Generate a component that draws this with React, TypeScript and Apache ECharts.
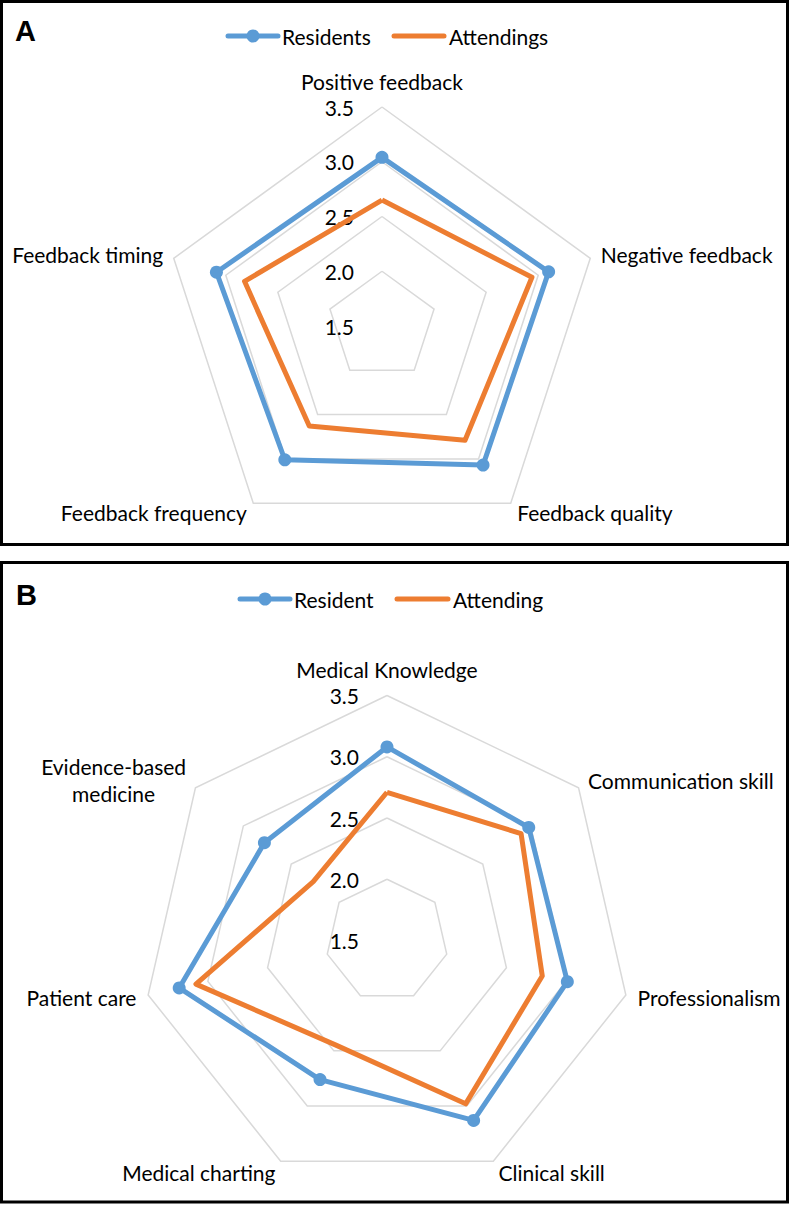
import React, { useEffect, useRef } from "react";
import * as echarts from "echarts";

// ---- Panel A data (clockwise from top) ----
const indicatorsA = ["Positive feedback", "Negative feedback", "Feedback quality", "Feedback frequency", "Feedback timing"];
const residentsA = [3.04, 3.10, 3.07, 3.01, 3.09];
const attendingsA = [2.65, 2.94, 2.79, 2.63, 2.82];
const seriesNamesA = ["Residents", "Attendings"];

// ---- Panel B data (clockwise from top) ----
const indicatorsB = ["Medical Knowledge", "Communication skill", "Professionalism", "Clinical skill", "Medical charting", "Patient care", "Evidence-based\nmedicine"];
const residentB = [3.08, 2.98, 3.01, 3.13, 2.76, 3.24, 2.78];
const attendingB = [2.71, 2.90, 2.80, 2.98, 2.45, 3.10, 2.27];
const seriesNamesB = ["Resident", "Attending"];

// ---- Axis scale ----
const axisMin = 1.5;
const axisMax = 3.5;
const axisSplits = 4;

const BLUE = "#5B9BD5";
const ORANGE = "#ED7D31";
const GRID = "#d9d9d9";
const FONT = "Lato, 'Open Sans', sans-serif";
const FS = 21;

// ECharts places radar indicators counter-clockwise; reorder to get clockwise layout
const ccw = <T,>(arr: T[]): T[] => [arr[0], ...arr.slice(1).reverse()];

function radarCfg(indicators: string[], center: number[], radius: number, nameGap: number, topGap: number) {
  return {
    center,
    radius,
    startAngle: 90,
    shape: "polygon",
    splitNumber: axisSplits,
    nameGap,
    indicator: ccw(indicators).map((name, i) => ({
      name,
      min: axisMin,
      max: axisMax,
      ...(i === 0 ? { axisLabel: { show: true }, nameGap: topGap } : {}),
    })),
    axisName: {
      color: "#000",
      fontSize: FS,
      fontFamily: FONT,
      formatter: (name: string) =>
        name.indexOf("\n") >= 0
          ? name.split("\n").map((s) => "{c|" + s + "}").join("\n")
          : name,
      rich: {
        c: { align: "center", fontSize: FS, fontFamily: FONT, color: "#000", lineHeight: 27 },
      },
    },
    splitLine: { lineStyle: { color: GRID, width: 1.5 } },
    splitArea: { show: false },
    axisLine: { show: false },
    axisTick: { show: false },
    axisLabel: {
      show: false,
      color: "#000",
      fontSize: FS,
      fontFamily: FONT,
      margin: 28,
      formatter: (v: number) => Number(v).toFixed(1),
    },
  };
}

function radarSeries(radarIndex: number, names: string[], res: number[], att: number[]) {
  return {
    type: "radar",
    radarIndex,
    data: [
      {
        name: names[0],
        value: ccw(res),
        symbol: "circle",
        symbolSize: 13,
        lineStyle: { color: BLUE, width: 5, join: "round" },
        itemStyle: { color: BLUE },
      },
      {
        name: names[1],
        value: ccw(att),
        symbol: "none",
        lineStyle: { color: ORANGE, width: 5, join: "round" },
        itemStyle: { color: ORANGE },
      },
    ],
  };
}

function legendGraphic(y: number, b0: number, b1: number, bText: string, o0: number, o1: number, oText: string) {
  return [
    { type: "line", shape: { x1: b0, y1: y, x2: b1, y2: y }, style: { stroke: BLUE, lineWidth: 5, lineCap: "round" } },
    { type: "circle", shape: { cx: (b0 + b1) / 2, cy: y, r: 6.5 }, style: { fill: BLUE } },
    { type: "text", x: b1 + 4, y, style: { text: bText, fill: "#000", fontSize: FS, fontFamily: FONT, verticalAlign: "middle" } },
    { type: "line", shape: { x1: o0, y1: y, x2: o1, y2: y }, style: { stroke: ORANGE, lineWidth: 5, lineCap: "round" } },
    { type: "text", x: o1 + 5, y, style: { text: oText, fill: "#000", fontSize: FS, fontFamily: FONT, verticalAlign: "middle" } },
  ];
}

export default function App() {
  const ref = useRef<HTMLDivElement>(null);
  useEffect(() => {
    if (!ref.current) return;
    const chart = echarts.init(ref.current, undefined, { renderer: "svg" });
    chart.setOption({
      animation: false,
      backgroundColor: "#fff",
      radar: [
        radarCfg(indicatorsA, [382, 326], 219, 11, 15),
        radarCfg(indicatorsB, [387, 940.5], 245, 12, 16),
      ],
      series: [
        radarSeries(0, seriesNamesA, residentsA, attendingsA),
        radarSeries(1, seriesNamesB, residentB, attendingB),
      ],
      graphic: [
        { type: "rect", shape: { x: 1.5, y: 1.5, width: 786, height: 543 }, style: { fill: "none", stroke: "#000", lineWidth: 3 } },
        { type: "rect", shape: { x: 1.5, y: 562.5, width: 786, height: 639.5 }, style: { fill: "none", stroke: "#000", lineWidth: 3 } },
        { type: "text", x: 15, y: 31, style: { text: "A", fill: "#000", fontSize: 29, fontWeight: "bold", fontFamily: "'Liberation Sans', Arial, sans-serif", verticalAlign: "middle" } },
        { type: "text", x: 16, y: 595, style: { text: "B", fill: "#000", fontSize: 29, fontWeight: "bold", fontFamily: "'Liberation Sans', Arial, sans-serif", verticalAlign: "middle" } },
        ...legendGraphic(36, 228, 278, seriesNamesA[0], 394, 444, seriesNamesA[1]),
        ...legendGraphic(599, 240, 290, seriesNamesB[0], 397, 448, seriesNamesB[1]),
      ],
    });
    return () => chart.dispose();
  }, []);
  return (
    <div
      ref={ref}
      style={{ position: "absolute", left: 0, top: 0, width: 790, height: 1205, background: "#fff" }}
    />
  );
}
